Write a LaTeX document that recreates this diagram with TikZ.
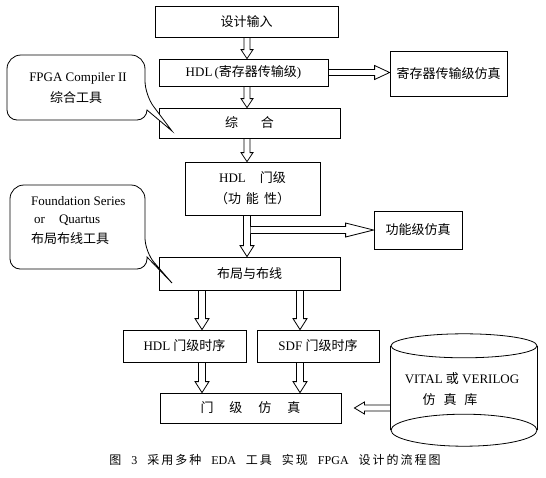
\documentclass[tikz,border=0pt]{standalone}
\usepackage{fontspec}
\setmainfont{Liberation Serif}
\newfontfamily\cjk{Noto Sans CJK SC}
\usetikzlibrary{calc}
\pgfdeclarelayer{background}
\pgfsetlayers{background,main}
\newcommand\zh[1]{{\cjk #1}}
\newcommand\cg{\hspace{2pt}}
\newcommand\wg{\hspace{10pt}}
\newcommand\fatarrow[6][]{%
  \coordinate (fa-a) at (#2);
  \coordinate (fa-b) at (#3);
  \coordinate (fa-h) at ($(fa-b)!#6!(fa-a)$);
  \filldraw[fatarrowstyle,#1] ($(fa-a)!#4!90:(fa-b)$) -- ($(fa-h)!#4!90:(fa-b)$) -- ($(fa-h)!#5!90:(fa-b)$) -- (fa-b) -- ($(fa-h)!#5!-90:(fa-b)$) -- ($(fa-h)!#4!-90:(fa-b)$) -- ($(fa-a)!#4!-90:(fa-b)$);
}
\tikzset{
  fatarrowstyle/.style={draw=black, fill=white, line width=0.8pt, line join=miter},
  box/.style={draw=black, line width=0.8pt, inner sep=1pt, font=\fontsize{13}{15}\selectfont},
  txt/.style={inner sep=0pt, font=\fontsize{13}{15}\selectfont},
  bubble/.style={draw=black, fill=white, line width=0.8pt},
}
\begin{document}
\begin{tikzpicture}[x=1pt, y=-1pt]
\begin{pgfonlayer}{background}
\fill[white] (0,0) rectangle (546,477);
\end{pgfonlayer}
\useasboundingbox (0,0) rectangle (546,477);

% boxes
\node[box, minimum width=183pt, minimum height=31pt] (A) at (246.5,21.5) {\zh{设计输入}};
\node[box, minimum width=169pt, minimum height=27pt] (B) at (243.5,72.5) {HDL\,(\zh{寄存器传输级})};
\node[box, minimum width=117pt, minimum height=45pt] (C) at (448.5,73.5) {\zh{寄存器传输级仿真}};
\node[box, minimum width=181pt, minimum height=30pt] (D) at (249.5,123) {\zh{综\hspace{23pt}合}};
\node[box, minimum width=135pt, minimum height=53pt, align=center] (E) at (252.5,188.5) {HDL\hspace{14pt}\zh{门级}\\[6pt]\zh{（功\hspace{5pt}能\hspace{5pt}性）}};
\node[box, minimum width=88pt, minimum height=38pt] (F) at (418,230) {\zh{功能级仿真}};
\node[box, minimum width=181pt, minimum height=33pt] (G) at (249.5,273.5) {\zh{布局与布线}};
\node[box, minimum width=123pt, minimum height=32pt] (H) at (184.5,346) {HDL \zh{门级时序}};
\node[box, minimum width=122pt, minimum height=32pt] (I) at (318,346) {SDF \zh{门级时序}};
\node[box, minimum width=181pt, minimum height=30pt] (J) at (250.5,408) {\zh{门\hspace{16pt}级\hspace{16pt}仿\hspace{16pt}真}};

% cylinder (database)
\node[minimum width=146pt, minimum height=112pt, inner sep=0pt] (K) at (464,390) {};
\draw[line width=0.8pt] ($(K.north west)+(0,12)$) -- ($(K.south west)+(0,-16)$);
\draw[line width=0.8pt] ($(K.north east)+(0,12)$) -- ($(K.south east)+(0,-16)$);
\draw[line width=0.8pt] ($(K.north)+(0,12)$) ellipse [x radius=73, y radius=12];
\draw[line width=0.8pt] ($(K.south)+(0,-16)$) ellipse [x radius=73, y radius=16];
\node[txt] (K1) at (462,379) {VITAL \zh{或} VERILOG};
\node[txt] (K2) at (450,400) {\zh{仿\hspace{8pt}真\hspace{8pt}库}};

% callouts
\draw[bubble, rounded corners=14pt] (7,90) -- (7,55) -- (145,55) -- (145,95) [sharp corners] -- (172,131) -- (147,110) [rounded corners=10pt] -- (147,120) -- (7,120) -- cycle;
\node[txt] (T1) at (78,78) {FPGA Compiler II};
\node[txt] (T2) at (76,98) {\zh{综合工具}};

\draw[bubble, rounded corners=14pt] (10,230) -- (10,185) -- (145,185) -- (145,252) [sharp corners] -- (172,283) -- (147,257) [rounded corners=10pt] -- (147,269) -- (10,269) -- cycle;
\node[txt, anchor=west] (T3) at (31,201) {Foundation Series};
\node[txt, anchor=west] (T4) at (34,220) {or\hspace{14pt}Quartus};
\node[txt, anchor=west] (T5) at (31,239) {\zh{布局布线工具}};

% arrows
\coordinate (xm) at (247,0);
\coordinate (xs) at (250.5,0);
\coordinate (xl) at (202,0);
\coordinate (xr) at (300,0);
\coordinate (jt) at ($(J.east)+(13,0)$);
\begin{pgfonlayer}{background}
\fatarrow{A.south -| xm}{B.north -| xm}{3pt}{6pt}{9pt}
\fatarrow{B.south -| xm}{D.north -| xm}{3pt}{6pt}{9pt}
\fatarrow{D.south -| xm}{E.north -| xm}{3pt}{6pt}{9pt}
\fatarrow{E.south -| xm}{G.north -| xm}{3.5pt}{7pt}{11pt}
\fatarrow{F.west -| xs}{F.west}{3.5pt}{7pt}{28pt}
\fatarrow{G.south -| xl}{H.north -| xl}{3.5pt}{7pt}{11pt}
\fatarrow{G.south -| xr}{I.north -| xr}{3.5pt}{7pt}{11pt}
\fatarrow{H.south -| xl}{J.north -| xl}{3.5pt}{7pt}{11pt}
\fatarrow{I.south -| xr}{J.north -| xr}{3.5pt}{7pt}{11pt}
\fatarrow{B.east}{C.west |- B.east}{3pt}{7pt}{15pt}
\fatarrow{K.west |- J.east}{jt}{3pt}{6pt}{10pt}
\end{pgfonlayer}

% caption
\node[inner sep=0pt, font=\fontsize{12}{14}\selectfont] (cap) at (275,460) {\zh{图}\wg 3\wg\zh{采\cg 用\cg 多\cg 种}\wg EDA\wg\zh{工\cg 具}\wg\zh{实\cg 现}\wg FPGA\wg\zh{设\cg 计\cg 的\cg 流\cg 程\cg 图}};
\end{tikzpicture}
\end{document}
